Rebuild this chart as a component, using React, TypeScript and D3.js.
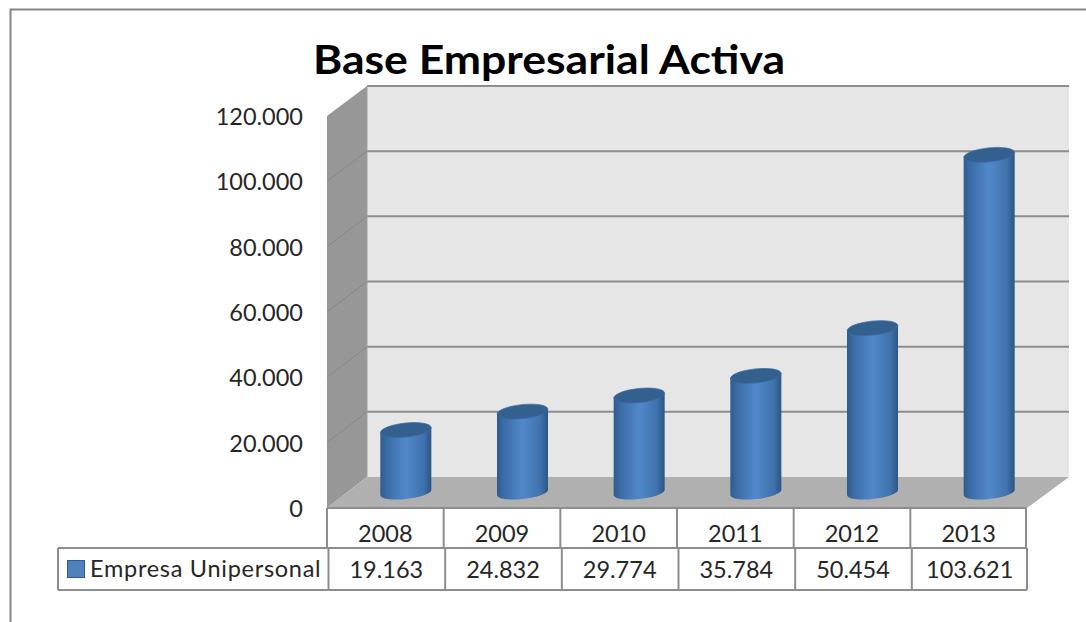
import React from "react";
import * as d3 from "d3";

const categories = ["2008", "2009", "2010", "2011", "2012", "2013"];
const values = [19163, 24832, 29774, 35784, 50454, 103621];
const valueLabels = ["19.163", "24.832", "29.774", "35.784", "50.454", "103.621"];
const yTicks = [0, 20000, 40000, 60000, 80000, 100000, 120000];
const seriesName = "Empresa Unipersonal";
const title = "Base Empresarial Activa";

const W = 1086, H = 622;
const FONT = "Lato, Carlito, Calibri, sans-serif";
const GRID = "#8d8d8d";
const TEXT = "#262626";

const xFront = d3.scaleBand<string>().domain(categories).range([327, 1027]);
const yFront = d3.scaleLinear().domain([0, 120000]).range([508, 116]);
const yBack = d3.scaleLinear().domain([0, 120000]).range([477, 86]);
const yBar = d3.scaleLinear().domain([0, 120000]).range([492.5, 101.5]);
const BAR_W = 51;
const RY_TOP = 7;
const RY_BASE = 6.5;
const fmt = (v: number) => (v === 0 ? "0" : d3.format(",")(v).replace(/,/g, "."));

function Cylinder({ cat, value }: { cat: string; value: number }) {
  const cx = xFront(cat)! + xFront.bandwidth() / 2 + 20.5;
  const rx = BAR_W / 2;
  const yb = yBar(0);
  const yt = yBar(value);
  const tilt = 2.6;
  const body = `M${cx - rx},${yt + tilt} L${cx - rx},${yb + tilt} A${rx},${RY_BASE} -6 0 0 ${cx + rx},${yb - tilt} L${cx + rx},${yt - tilt} Z`;
  return (
    <g>
      <path d={body} fill="url(#cyl)" />
      <ellipse cx={cx} cy={yt} rx={rx} ry={RY_TOP} fill="#34608f" stroke="#3c6a9e" strokeWidth={0.7} transform={`rotate(-6 ${cx} ${yt})`} />
    </g>
  );
}

export default function App() {
  const rowTop = 508, rowMid = 548, rowBot = 590;
  const edges = [...categories.map((c) => xFront(c)!), 1027];
  return (
    <svg width={W} height={H} viewBox={`0 0 ${W} ${H}`} style={{ position: "absolute", left: 0, top: 0, background: "#fff" }}>
      <defs>
        <linearGradient id="cyl" x1="0" x2="1" y1="0" y2="0">
          <stop offset="0" stopColor="#2f5b8e" />
          <stop offset="0.12" stopColor="#3a6ba5" />
          <stop offset="0.5" stopColor="#5288cb" />
          <stop offset="0.85" stopColor="#3f72ad" />
          <stop offset="1" stopColor="#2c5585" />
        </linearGradient>
      </defs>
      <path d={`M${W},9.5 H10.5 V${H}`} fill="none" stroke="#868686" strokeWidth={2} />
      <text x={313} y={74} fontFamily={FONT} fontWeight={700} fontSize={41} textLength={472} lengthAdjust="spacingAndGlyphs" fill="#000">{title}</text>

      <polygon points={`367,86 1069,86 1069,477 367,477`} fill="#e6e6e6" />
      <polygon points={`327,116 367,86 367,477 327,508`} fill="#979797" />
      <polygon points={`327,508 367,477 1069,477 1027,508`} fill="#b0b0b0" />
      {yTicks.map((t) => (
        <g key={t}>
          {t > 0 && t < 120000 && <line x1={327} y1={yFront(t)} x2={367} y2={yBack(t)} stroke="#868686" strokeWidth={1} />}
          {t > 0 && <line x1={367} y1={yBack(t)} x2={1069} y2={yBack(t)} stroke={GRID} strokeWidth={2} />}
          <text x={303} y={yFront(t) + 9} textAnchor="end" fontFamily={FONT} fontSize={23.5} fill={TEXT}>{fmt(t)}</text>
        </g>
      ))}
      <line x1={367} y1={86} x2={367} y2={477} stroke="#a0a0a0" strokeWidth={1} />

      {categories.map((c, i) => <Cylinder key={c} cat={c} value={values[i]} />)}

      <g stroke={GRID} strokeWidth={2} fill="none">
        <line x1={327} y1={rowTop} x2={1026} y2={rowTop} />
        <line x1={58} y1={rowMid} x2={1027} y2={rowMid} />
        <line x1={58} y1={rowBot} x2={1027} y2={rowBot} />
        <line x1={58} y1={rowMid} x2={58} y2={rowBot} />
        {edges.map((x, i) => (
          <g key={x}>
            <line x1={Math.min(x, 1026)} y1={rowTop} x2={Math.min(x, 1026)} y2={rowMid} />
            <line x1={i === 6 ? 1027 : x + 1.5} y1={rowMid} x2={i === 6 ? 1027 : x + 1.5} y2={rowBot} />
          </g>
        ))}
      </g>
      {categories.map((c, i) => (
        <g key={c} fontFamily={FONT} fontSize={23.5} fill={TEXT} textAnchor="middle">
          <text x={xFront(c)! + xFront.bandwidth() / 2} y={rowMid - 6}>{c}</text>
          <text x={xFront(c)! + xFront.bandwidth() / 2 + 1} y={rowBot - 12}>{valueLabels[i]}</text>
        </g>
      ))}
      <rect x={67.5} y={560.5} width={17} height={17} fill="#4f81bd" stroke="#2f5b8e" strokeWidth={1} />
      <text x={90} y={577} fontFamily={FONT} fontSize={23.5} letterSpacing={0.72} fill={TEXT}>{seriesName}</text>
    </svg>
  );
}
